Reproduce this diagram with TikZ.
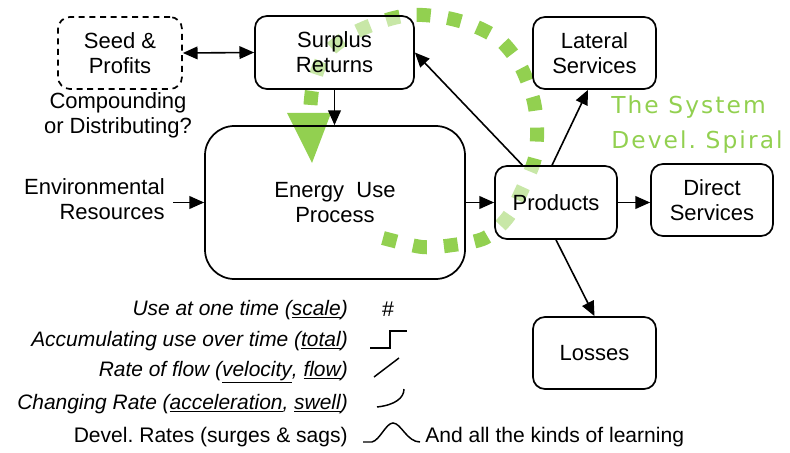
\documentclass[tikz,border=0pt]{standalone}
\usepackage{fontspec}
\setmainfont{Liberation Sans}
\newfontfamily\spiralfont[LetterSpace=9]{DejaVu Sans}
\usetikzlibrary{arrows.meta}
\definecolor{sgreen}{RGB}{146,208,80}
\frenchspacing
\begin{document}
\begin{tikzpicture}[x=0.75pt,y=-0.75pt,
  box/.style={draw, line width=1.3pt, rounded corners=9pt, align=center,
    font=\fontsize{16.5}{18.75}\selectfont, inner sep=0pt},
  arr/.style={line width=1.2pt, -{Triangle[length=11pt,width=9.5pt]}},
  dblarr/.style={line width=1.2pt, {Triangle[length=11pt,width=9.5pt]}-{Triangle[length=11pt,width=9.5pt]}},
  txt/.style={align=center, font=\fontsize{16.5}{18.75}\selectfont, inner sep=0pt},
  leg/.style={anchor=east, inner sep=0pt, font=\fontsize{15.7}{18}\selectfont\itshape},
  spiral/.style={draw=sgreen, line width=10.5pt, dash pattern=on 10.5pt off 12.75pt},
  sym/.style={line width=1.1pt},
  veil/.style={fill=white, fill opacity=0.5, text opacity=1}]
\useasboundingbox (0,0) rectangle (790,453);

% green spiral
\draw[spiral] plot[smooth] coordinates {(383,238) (422,247) (453,245) (485,238) (508,217)
  (523,188) (535,158) (537,127) (533,98) (520,65) (500,40) (472,25) (442,17) (410,15)
  (380,22) (350,35) (325,55) (313,85) (310,113)};
\fill[sgreen] (287,113) -- (331,113) -- (312,163) -- cycle;

% boxes
\node[box, dashed, dash pattern=on 4.5pt off 3.5pt, minimum width=93pt, minimum height=54pt] (seed) at (120,53) {Seed \&\\Profits};
\node[box, veil, minimum width=119.25pt, minimum height=54.75pt] (surplus) at (334.5,52.5) {Surplus\\Returns};
\node[box, rounded corners=22pt, minimum width=195pt, minimum height=114.75pt] (energy) at (335,202.5) {Energy\ \ Use\\Process};
\node[box, veil, minimum width=91.5pt, minimum height=54.75pt] (products) at (556,202.5) {Products};
\node[box, veil, minimum width=92.25pt, minimum height=54pt] (lateral) at (594.5,53) {Lateral\\Services};
\node[box, minimum width=91.5pt, minimum height=54pt] (direct) at (712,200) {Direct\\Services};
\node[box, minimum width=92.25pt, minimum height=54pt] (losses) at (594.5,353) {Losses};

% texts
\node[txt, align=right, anchor=east] (env) at (165,199) {Environmental\\Resources};
\node[txt] (comp) at (118,115) {Compounding\\or Distributing?};
\node[anchor=west, inner sep=0pt, align=left, text=sgreen,
  font=\fontsize{17.5}{26.25}\selectfont\spiralfont] (label) at (611,125) {The System\\Devel. Spiral};

% connectors
\draw[dblarr] (seed.east) -- (surplus.west);
\draw[arr] (surplus.south) -- (surplus.south |- energy.north);
\draw[arr] ([xshift=6pt]env.east |- energy.west) -- (energy.west);
\draw[arr] (energy.east) -- (products.west);
\draw[arr] (products.132) -- (surplus.east);
\draw[arr] (products.96) -- (lateral.-100);
\draw[arr] (products.east) -- (products.east -| direct.west);
\draw[arr] (products.south) -- (losses.north);

% legend
\node[leg] (l1) at (348,310) {Use at one time (\underline{scale})};
\node[leg] (l2) at (348,341) {Accumulating use over time (\underline{total})};
\node[leg] (l3) at (348,372) {Rate of flow (\underline{velocity}, \underline{flow})};
\node[leg] (l4) at (348,404) {Changing Rate (\underline{acceleration}, \underline{swell})};
\node[leg, font=\fontsize{15.8}{18}\selectfont] (l5) at (348,437) {Devel. Rates (surges \& sags)};
\node[inner sep=0pt, font=\fontsize{16}{18}\selectfont] (hash) at (388,309) {\#};
\draw[sym] (370,348) -- (390,348) -- (390,331) -- (407,331);
\draw[sym] (374,377) -- (399,358);
\draw[sym] (377,407) .. controls (395,405) and (404,398) .. (404,389);
\draw[sym] (363,442) -- (372,442) .. controls (380,440) and (386,423) .. (393,423)
  .. controls (401,423) and (407,442) .. (420,442);
\node[anchor=west, inner sep=0pt, font=\fontsize{15.8}{18}\selectfont] (learn) at (425,437) {And all the kinds of learning};
\end{tikzpicture}
\end{document}
